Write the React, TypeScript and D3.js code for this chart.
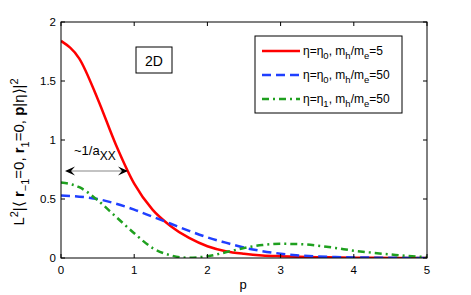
import { useEffect, useRef } from 'react';
import * as d3 from 'd3';

// values at fixed p steps
const pValues = [0, 0.25, 0.5, 0.75, 1, 1.25, 1.5, 1.75, 2, 2.25, 2.5, 2.75, 3, 3.25, 3.5, 3.75, 4, 4.25, 4.5, 4.75, 5];
const redSeries = [1.84, 1.69, 1.35, 0.96, 0.63, 0.41, 0.27, 0.17, 0.1, 0.058, 0.036, 0.022, 0.015, 0.01, 0.007, 0.005, 0.003, 0.002, 0.001, 0.001, 0];
const blueSeries = [0.53, 0.52, 0.5, 0.46, 0.41, 0.35, 0.29, 0.23, 0.175, 0.13, 0.088, 0.058, 0.037, 0.022, 0.013, 0.008, 0.005, 0.003, 0.002, 0.001, 0];
const greenSeries = [0.64, 0.6, 0.49, 0.35, 0.21, 0.085, 0.022, 0.002, 0.015, 0.048, 0.085, 0.11, 0.12, 0.118, 0.105, 0.085, 0.062, 0.045, 0.03, 0.016, 0.008];

const xTicks = [0, 1, 2, 3, 4, 5];
const yTicks = [0, 0.5, 1, 1.5, 2];

const seriesList = [
  { name: 'red', values: redSeries, color: '#ff0000', dash: null },
  { name: 'blue', values: blueSeries, color: '#1f3fff', dash: '9,5' },
  { name: 'green', values: greenSeries, color: '#1fa01f', dash: '7,4,2,4' },
];

const W = 471;
const H = 295;
const margin = { left: 61, right: 44, top: 22, bottom: 37 };
const FONT = 'Liberation Sans, Arial, Helvetica, sans-serif';

export default function App() {
  const svgRef = useRef<SVGSVGElement>(null);

  useEffect(() => {
    if (!svgRef.current) return;
    const svg = d3.select(svgRef.current);
    svg.selectAll('*').remove();

    const x = d3.scaleLinear().domain([0, 5]).range([margin.left, W - margin.right]);
    const y = d3.scaleLinear().domain([0, 2]).range([H - margin.bottom, margin.top]);

    const g = svg.append('g');

    // curves
    const clip = svg.append('defs').append('clipPath').attr('id', 'plotclip');
    clip.append('rect')
      .attr('x', margin.left).attr('y', margin.top)
      .attr('width', W - margin.left - margin.right)
      .attr('height', H - margin.top - margin.bottom);

    seriesList.forEach(s => {
      const line = d3.line<number>()
        .x((_, i) => x(pValues[i]))
        .y(d => y(d))
        .curve(d3.curveMonotoneX);
      g.append('path')
        .attr('d', line(s.values))
        .attr('fill', 'none')
        .attr('stroke', s.color)
        .attr('stroke-width', 2.5)
        .attr('stroke-dasharray', s.dash)
        .attr('clip-path', 'url(#plotclip)');
    });

    // frame
    g.append('rect')
      .attr('x', margin.left).attr('y', margin.top)
      .attr('width', W - margin.left - margin.right)
      .attr('height', H - margin.top - margin.bottom)
      .attr('fill', 'none')
      .attr('stroke', '#000')
      .attr('stroke-width', 1);

    // ticks, inward on all sides
    const tl = 4;
    xTicks.forEach(t => {
      g.append('line').attr('x1', x(t)).attr('x2', x(t))
        .attr('y1', y(0)).attr('y2', y(0) - tl).attr('stroke', '#000');
      g.append('line').attr('x1', x(t)).attr('x2', x(t))
        .attr('y1', y(2)).attr('y2', y(2) + tl).attr('stroke', '#000');
      g.append('text')
        .attr('x', x(t)).attr('y', y(0) + 16)
        .attr('text-anchor', 'middle')
        .style('font-family', FONT).style('font-size', '11.5px')
        .text(d3.format('~g')(t));
    });
    yTicks.forEach(t => {
      g.append('line').attr('x1', x(0)).attr('x2', x(0) + tl)
        .attr('y1', y(t)).attr('y2', y(t)).attr('stroke', '#000');
      g.append('line').attr('x1', x(5)).attr('x2', x(5) - tl)
        .attr('y1', y(t)).attr('y2', y(t)).attr('stroke', '#000');
      g.append('text')
        .attr('x', margin.left - 5).attr('y', y(t) + 4)
        .attr('text-anchor', 'end')
        .style('font-family', FONT).style('font-size', '11.5px')
        .text(d3.format('~g')(t));
    });

    // x label
    g.append('text')
      .attr('x', 243).attr('y', 289)
      .attr('text-anchor', 'middle')
      .style('font-family', FONT).style('font-size', '13px')
      .text('p');

    // y label
    const yl = g.append('text')
      .attr('transform', 'translate(24,152) rotate(-90)')
      .attr('text-anchor', 'middle')
      .style('font-family', FONT).style('font-size', '15px');
    yl.append('tspan').text('L');
    yl.append('tspan').attr('dy', -6).style('font-size', '11px').text('2');
    yl.append('tspan').attr('dy', 6).text('|\u27E8 ');
    yl.append('tspan').style('font-weight', 'bold').text('r');
    yl.append('tspan').attr('dy', 5).style('font-size', '11px').text('\u22121');
    yl.append('tspan').attr('dy', -5).text('=0, ');
    yl.append('tspan').style('font-weight', 'bold').text('r');
    yl.append('tspan').attr('dy', 5).style('font-size', '11px').text('1');
    yl.append('tspan').attr('dy', -5).text('=0, ');
    yl.append('tspan').style('font-weight', 'bold').text('p');
    yl.append('tspan').text('|\u03B7\u27E9|');
    yl.append('tspan').attr('dy', -6).style('font-size', '11px').text('2');

    // 2D box
    g.append('rect')
      .attr('x', 136).attr('y', 47).attr('width', 36).attr('height', 26)
      .attr('fill', '#fff').attr('stroke', '#000').attr('stroke-width', 1);
    g.append('text')
      .attr('x', 154).attr('y', 66)
      .attr('text-anchor', 'middle')
      .style('font-family', FONT).style('font-size', '14px')
      .text('2D');

    // arrow ~1/a_XX
    const arrowY = 171;
    const ax0 = x(0) + 4;
    const ax1 = 128;
    g.append('line')
      .attr('x1', ax0 + 4).attr('x2', ax1 - 4)
      .attr('y1', arrowY).attr('y2', arrowY)
      .attr('stroke', '#888').attr('stroke-width', 1.2);
    const head = (tipX: number, dir: number) => {
      g.append('path')
        .attr('d', `M${tipX},${arrowY} L${tipX + dir * 10},${arrowY - 4.5} L${tipX + dir * 6},${arrowY} L${tipX + dir * 10},${arrowY + 4.5} Z`)
        .attr('fill', '#000');
    };
    head(ax0, 1);
    head(ax1, -1);
    const at = g.append('text')
      .attr('x', 74).attr('y', 155)
      .style('font-family', FONT).style('font-size', '13px');
    at.append('tspan').text('~1/a');
    at.append('tspan').attr('dy', 5).style('font-size', '12px').text('XX');

    // legend
    g.append('rect')
      .attr('x', 255).attr('y', 36).attr('width', 147).attr('height', 77)
      .attr('fill', '#fff').attr('stroke', '#000').attr('stroke-width', 1);
    const legendLabels = [
      ['\u03B7=\u03B7', '0', ', m', 'h', '/m', 'e', '=5'],
      ['\u03B7=\u03B7', '0', ', m', 'h', '/m', 'e', '=50'],
      ['\u03B7=\u03B7', '1', ', m', 'h', '/m', 'e', '=50'],
    ];
    seriesList.forEach((s, i) => {
      const ly = 51 + i * 24;
      g.append('line')
        .attr('x1', 262).attr('x2', 300)
        .attr('y1', ly).attr('y2', ly)
        .attr('stroke', s.color).attr('stroke-width', 2.5)
        .attr('stroke-dasharray', s.dash);
      const t = g.append('text')
        .attr('x', 303).attr('y', ly + 4)
        .style('font-family', FONT).style('font-size', '12px');
      const parts = legendLabels[i];
      parts.forEach((p, k) => {
        const sub = k % 2 === 1;
        const ts = t.append('tspan').text(p);
        if (sub) ts.attr('dy', 4).style('font-size', '9.5px');
        else if (k > 0) ts.attr('dy', -4);
      });
    });
  }, []);

  return (
    <svg
      ref={svgRef}
      width={W}
      height={H}
      style={{ position: 'absolute', left: 0, top: 0, background: '#fff', display: 'block' }}
    />
  );
}
